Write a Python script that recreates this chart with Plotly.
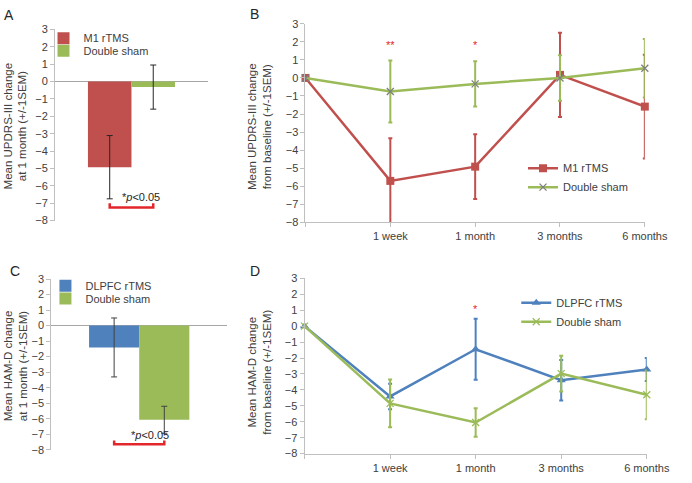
import plotly.graph_objects as go

# ---------------- data ----------------
# Panel A (UPDRS-III at 1 month)
a_groups = ["M1 rTMS", "Double sham"]
a_category = ["1 month"]
a_values = [-4.93, -0.32]
a_sem = [1.82, 1.27]

# Panels B / D time points
timepoints = ["Baseline", "1 week", "1 month", "3 months", "6 months"]
tick_labels = ["", "1 week", "1 month", "3 months", "6 months"]

# Panel B (UPDRS-III from baseline)
b_m1 = [0, -5.71, -4.92, 0.17, -1.59]
b_m1_sem = [None, 2.37, 1.80, 2.33, 2.88]
b_sham = [0, -0.75, -0.33, 0.0, 0.54]
b_sham_sem = [None, 1.72, 1.26, 1.26, 1.62]
b_stars = {"1 week": "**", "1 month": "*"}

# Panel C (HAM-D at 1 month)
c_groups = ["DLPFC rTMS", "Double sham"]
c_category = ["1 month"]
c_values = [-1.41, -6.07]
c_sem = [1.90, 0.87]

# Panel D (HAM-D from baseline)
d_dlpfc = [0, -4.41, -1.45, -3.39, -2.72]
d_dlpfc_sem = [None, 0.80, 1.92, 1.27, 0.72]
d_sham = [0, -4.85, -6.05, -2.98, -4.31]
d_sham_sem = [None, 1.50, 0.89, 1.12, 1.53]
d_stars = {"1 month": "*"}

y_ticks = list(range(-8, 4))

# ---------------- styles ----------------
RED = "#C0504D"
GREEN = "#9BBB59"
BLUE = "#4F81BD"
GREY_MARK = "#7F7F7F"
SIG_RED = "#E3262B"
AXIS = "#BFBFBF"
TXT = "#404040"
FONT = "Liberation Sans, Arial, sans-serif"
W, H = 692, 483
BARGAP = 0.43

fig = go.Figure()

# ---- Panel A bars (one single-entry legend per group) ----
for name, val, err, col, lg in zip(a_groups, a_values, a_sem, [RED, GREEN], ["legend", "legend5"]):
    fig.add_trace(go.Bar(
        x=a_category, y=[val], name=name, marker_color=col, marker_line_width=0,
        error_y=dict(type="data", array=[err], color="#262626", thickness=1, width=3),
        xaxis="x", yaxis="y", legend=lg, offsetgroup=name))

# ---- Panel C bars ----
for name, val, err, col, lg in zip(c_groups, c_values, c_sem, [BLUE, GREEN], ["legend3", "legend6"]):
    fig.add_trace(go.Bar(
        x=c_category, y=[val], name=name, marker_color=col, marker_line_width=0,
        error_y=dict(type="data", array=[err], color="#404040", thickness=1, width=3),
        xaxis="x3", yaxis="y3", legend=lg, offsetgroup=name))

# ---- Panel B lines ----
fig.add_trace(go.Scatter(
    x=timepoints, y=b_m1, name="M1 rTMS", mode="lines+markers",
    line=dict(color=RED, width=2.5),
    marker=dict(symbol="square", size=8, color=RED),
    error_y=dict(type="data", array=b_m1_sem, color=RED, thickness=2, width=2),
    xaxis="x2", yaxis="y2", legend="legend2", cliponaxis=False))
fig.add_trace(go.Scatter(
    x=timepoints, y=b_sham, name="Double sham", mode="lines+markers",
    line=dict(color=GREEN, width=2.5),
    marker=dict(symbol="x-thin", size=7, color=GREY_MARK,
                line=dict(color=GREY_MARK, width=1.3)),
    error_y=dict(type="data", array=b_sham_sem, color=GREEN, thickness=2, width=2),
    xaxis="x2", yaxis="y2", legend="legend2", cliponaxis=False))

# ---- Panel D lines ----
fig.add_trace(go.Scatter(
    x=timepoints, y=d_dlpfc, name="DLPFC rTMS", mode="lines+markers",
    line=dict(color=BLUE, width=2.5),
    marker=dict(symbol="triangle-up", size=8, color=BLUE),
    error_y=dict(type="data", array=d_dlpfc_sem, color=BLUE, thickness=2, width=2),
    xaxis="x4", yaxis="y4", legend="legend4", cliponaxis=False))
fig.add_trace(go.Scatter(
    x=timepoints, y=d_sham, name="Double sham", mode="lines+markers",
    line=dict(color=GREEN, width=2.5),
    marker=dict(symbol="x-thin", size=7, color=GREEN,
                line=dict(color=GREEN, width=1.3)),
    error_y=dict(type="data", array=d_sham_sem, color=GREEN, thickness=2, width=2),
    xaxis="x4", yaxis="y4", legend="legend4", cliponaxis=False))


def px_x(p):
    return p / W


def px_y(p):
    return 1 - p / H


yax = dict(range=[-8, 3], tickvals=y_ticks, showgrid=False, showline=True,
           linecolor=AXIS, linewidth=1, ticks="outside", ticklen=4, tickcolor=AXIS,
           tickfont=dict(family=FONT, size=11, color=TXT), zeroline=False, fixedrange=True)

bar_x = dict(showticklabels=False, showline=False, ticks="", showgrid=False,
             zeroline=False, range=[-0.5, 0.5])
line_x = dict(type="category", range=[0, 4], tickvals=timepoints, ticktext=tick_labels,
              showgrid=False, showline=True, linecolor=AXIS, linewidth=1,
              ticks="outside", ticklen=4, tickcolor=AXIS,
              tickfont=dict(family=FONT, size=11, color=TXT))

LEGFONT = dict(family=FONT, size=11, color=TXT)


def leg(xp, yp):
    return dict(x=px_x(xp), y=px_y(yp), xanchor="left", yanchor="middle",
                font=LEGFONT, bgcolor="rgba(0,0,0,0)")


fig.update_layout(
    width=W, height=H, margin=dict(l=0, r=0, t=0, b=0),
    paper_bgcolor="white", plot_bgcolor="white",
    barmode="group", bargap=BARGAP, bargroupgap=0,
    font=dict(family=FONT, color=TXT, size=11),
    xaxis=dict(domain=[px_x(57), px_x(215)], anchor="y", **bar_x),
    yaxis=dict(domain=[px_y(220), px_y(24)], anchor="x",
               **{**yax, "zeroline": True, "zerolinecolor": "#A6A6A6", "zerolinewidth": 1}),
    xaxis2=dict(domain=[px_x(316), px_x(667)], anchor="y2", **line_x),
    yaxis2=dict(domain=[px_y(221.7), px_y(18.3)], anchor="x2", **yax),
    xaxis3=dict(domain=[px_x(53), px_x(235)], anchor="y3", **bar_x),
    yaxis3=dict(domain=[px_y(455), px_y(280)], anchor="x3",
                **{**yax, "zeroline": True, "zerolinecolor": "#A6A6A6", "zerolinewidth": 1}),
    xaxis4=dict(domain=[px_x(315), px_x(669)], anchor="y4", **line_x),
    yaxis4=dict(domain=[px_y(459), px_y(279.3)], anchor="x4", **yax),
    legend=leg(45, 33),
    legend5=leg(45, 46),
    legend2=leg(541, 176),
    legend3=leg(47, 287),
    legend6=leg(47, 300),
    legend4=leg(534, 314),
    showlegend=True,
)

# significance brackets for bar panels (at the bar centres)
half = (1 - BARGAP) / 4
for xr, yr, yb, ytxt in [("x", "y", -7.25, -6.62), ("x3", "y3", -7.65, -7.05)]:
    fig.add_shape(type="path", xref=xr, yref=yr,
                  path=f"M {-half},{yb + 0.25} L {-half},{yb} L {half},{yb} L {half},{yb + 0.25}",
                  line=dict(color=SIG_RED, width=2.5))
    fig.add_annotation(x=0.06, y=ytxt, xref=xr, yref=yr, text="*<i>p</i><0.05",
                       showarrow=False, font=dict(family=FONT, size=11, color="#262626"))

# significance stars on line panels
for k, s in b_stars.items():
    fig.add_annotation(x=k, y=1.8, xref="x2", yref="y2", text=s, showarrow=False,
                       font=dict(family=FONT, size=11, color=SIG_RED))
for k, s in d_stars.items():
    fig.add_annotation(x=k, y=1.05, xref="x4", yref="y4", text=s, showarrow=False,
                       font=dict(family=FONT, size=11, color=SIG_RED))

# y-axis titles
titles = [
    ("Mean UPDRS-III change<br>at 1 month (+/-1SEM)", 16, 123),
    ("Mean UPDRS-III change<br>from baseline (+/-1SEM)", 269, 124),
    ("Mean HAM-D change<br>at 1 month (+/-1SEM)", 16, 369),
    ("Mean HAM-D change<br>from baseline (+/-1SEM)", 269, 376),
]
for t, xp, yp in titles:
    fig.add_annotation(x=px_x(xp), y=px_y(yp), xref="paper", yref="paper", text=t,
                       textangle=-90, showarrow=False, xanchor="center", yanchor="middle",
                       font=dict(family=FONT, size=11.5, color=TXT))

# panel letters
for lab, xp, yp in [("A", 9, 9), ("B", 263, 8), ("C", 15, 272), ("D", 264, 272)]:
    fig.add_annotation(x=px_x(xp), y=px_y(yp), xref="paper", yref="paper", text=lab,
                       showarrow=False, xanchor="center", yanchor="middle",
                       font=dict(family=FONT, size=14, color="#262626"))

fig.write_html(
    "out.html",
    config={"displayModeBar": False},
    post_script=("document.documentElement.style.margin='0px';"
                 "document.body.style.margin='0px';"
                 "document.documentElement.style.overflow='hidden';"
                 "document.body.style.overflow='hidden';"),
)
